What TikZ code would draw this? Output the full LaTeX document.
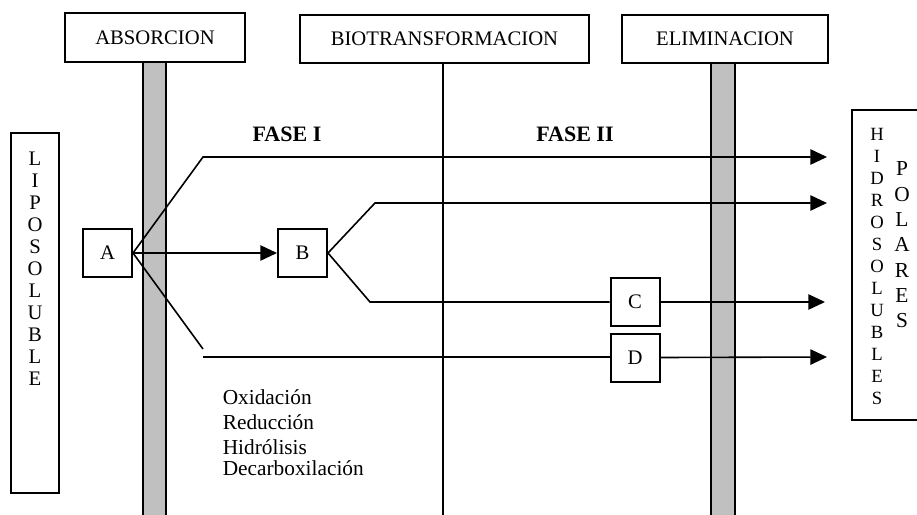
\documentclass[tikz,border=0pt]{standalone}
\usepackage{fontspec}
\setmainfont{Liberation Serif}
\usetikzlibrary{arrows.meta,positioning}

\definecolor{gris}{RGB}{192,192,192}

\begin{document}
\begin{tikzpicture}[x=0.75pt,y=-0.75pt,>={Triangle[length=12.5pt,width=11.5pt]},
                    line width=1.2pt,
                    caja/.style={draw,line width=1.5pt,fill=white,inner sep=0pt,
                                 font=\fontsize{15.5}{18}\selectfont},
                    letra/.style={caja,minimum width=36.75pt,minimum height=36pt},
                    lado/.style={draw,line width=1.5pt,inner sep=0pt},
                    columna/.style={align=center,inner sep=0pt},
                    fase/.style={font=\fontsize{16.5}{18}\selectfont\bfseries}]
  \useasboundingbox (0,0) rectangle (917,514);

  % barras grises
  \draw[fill=gris,line width=1.6pt] (143,62) rectangle (166,530);
  \draw[fill=gris,line width=1.6pt] (711,63) rectangle (735,530);

  \node[caja,minimum width=135pt,minimum height=36.75pt]   (abs) at (155,37.5) {ABSORCION};
  \node[caja,minimum width=216.75pt,minimum height=36pt]   (bio) at (444.5,39) {BIOTRANSFORMACION};
  \node[caja,minimum width=154.5pt,minimum height=36pt]    (eli) at (725,39)   {ELIMINACION};

  \coordinate (fondo) at (443,530);
  \draw (bio.south -| fondo) -- (fondo);

  % cajas laterales
  \node[lado,minimum width=36pt,minimum height=270pt]     (lipo)  at (35,313)  {};
  \node[lado,minimum width=58.5pt,minimum height=232.5pt] (hidro) at (891,265) {};

  \node[columna,font=\fontsize{15.5}{16.5}\selectfont,below=14pt of lipo.north]
       {L\\I\\P\\O\\S\\O\\L\\U\\B\\L\\E};
  \node[columna,font=\fontsize{14}{16.5}\selectfont,anchor=north] at (877,127)
       {H\\I\\D\\R\\O\\S\\O\\L\\U\\B\\L\\E\\S};
  \node[columna,font=\fontsize{16}{19}\selectfont,anchor=north] at (902,161)
       {P\\O\\L\\A\\R\\E\\S};

  \node[fase] (f1) at (287,134) {FASE I};
  \node[fase] (f2) at (575,134) {FASE II};

  \node[letra] (A) at (107.5,253) {A};
  \node[letra] (B) at (302.5,253) {B};
  \node[letra] (C) at (635,302)   {C};
  \node[letra] (D) at (635,357.5) {D};

  % puntos de quiebre y llegada
  \coordinate (a1) at (203,157);
  \coordinate (a2) at (203,349);
  \coordinate (a3) at (203,357);
  \coordinate (b1) at (375,203);
  \coordinate (b2) at (370,302);
  \coordinate (t1) at (827,157);
  \coordinate (t2) at (827,203);
  \coordinate (t3) at (825,302);
  \coordinate (t4) at (827,357);

  \draw[->] (A.east) -- (a1) -- (t1);
  \draw[->] (A.east) -- (B.west);
  \draw (A.east) -- (a2);
  \draw (a3) -- (a3 -| D.west);
  \draw[->] (B.east) -- (b1) -- (t2);
  \draw (B.east) -- (b2) -- (C.west);
  \draw[->] (C.east) -- (t3);
  \draw[->] (D.east) -- (t4);

  \node[align=left,anchor=north west,inner sep=0pt,
        font=\fontsize{16}{18.75}\selectfont] (proc) at (222,389)
       {Oxidación\\Reducción\\Hidrólisis\\[-3pt]Decarboxilación};
\end{tikzpicture}
\end{document}
